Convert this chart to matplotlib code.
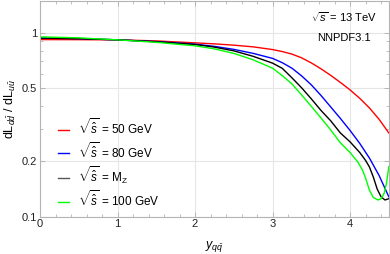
import numpy as np
import matplotlib
matplotlib.use("Agg")
import matplotlib.pyplot as plt
from matplotlib.ticker import FixedLocator, NullFormatter

plt.rcParams['font.family'] = ['Liberation Sans', 'DejaVu Sans']
plt.rcParams['mathtext.fontset'] = 'custom'
plt.rcParams['mathtext.rm'] = 'Liberation Sans'
plt.rcParams['mathtext.it'] = 'Liberation Sans:italic'

# ratio dL_dd / dL_uu vs rapidity
x_50 = [0, 0.5, 1, 1.5, 2, 2.25, 2.5, 2.75, 3, 3.125, 3.25, 3.375, 3.5, 3.625,
        3.75, 3.875, 4, 4.125, 4.25, 4.375, 4.5]
r_50 = [0.919, 0.918, 0.916, 0.904, 0.882, 0.871, 0.857, 0.839, 0.811, 0.791,
        0.766, 0.731, 0.686, 0.637, 0.587, 0.537, 0.489, 0.440, 0.390, 0.338, 0.285]

x_80 = [0, 0.5, 1, 1.5, 2, 2.25, 2.5, 2.75, 3, 3.125, 3.25, 3.375, 3.5, 3.625,
        3.75, 3.875, 4, 4.125, 4.25, 4.375, 4.5]
r_80 = [0.936, 0.930, 0.916, 0.896, 0.868, 0.844, 0.813, 0.773, 0.726, 0.688,
        0.642, 0.583, 0.521, 0.456, 0.395, 0.342, 0.294, 0.250, 0.208, 0.167, 0.128]

x_mz = [0, 0.5, 1, 1.5, 2, 2.25, 2.5, 2.75, 3, 3.125, 3.25, 3.375, 3.5, 3.625,
        3.75, 3.875, 4, 4.125, 4.2, 4.25, 4.3, 4.35, 4.4, 4.45, 4.5]
r_mz = [0.936, 0.930, 0.916, 0.894, 0.864, 0.836, 0.798, 0.745, 0.684, 0.641,
        0.569, 0.502, 0.437, 0.378, 0.332, 0.285, 0.255, 0.223, 0.202, 0.186,
        0.164, 0.141, 0.128, 0.123, 0.125]

x_100 = [0, 0.5, 1, 1.5, 2, 2.25, 2.5, 2.75, 3, 3.125, 3.25, 3.375, 3.5, 3.625,
         3.75, 3.875, 4, 4.1, 4.16, 4.2, 4.25, 4.3, 4.36, 4.4, 4.44, 4.47, 4.5]
r_100 = [0.951, 0.939, 0.916, 0.888, 0.850, 0.818, 0.773, 0.713, 0.642, 0.585,
         0.527, 0.459, 0.398, 0.344, 0.296, 0.252, 0.223, 0.198, 0.179, 0.162,
         0.139, 0.127, 0.123, 0.125, 0.134, 0.152, 0.187]

labels = [r'$\sqrt{\hat{s}}$ = 50 GeV', r'$\sqrt{\hat{s}}$ = 80 GeV',
          r'$\sqrt{\hat{s}}$ = M$_\mathrm{Z}$', r'$\sqrt{\hat{s}}$ = 100 GeV']
colors = ['#ff0000', '#0000ff', '#000000', '#00ff00']

fig = plt.figure(figsize=(3.9, 2.54), dpi=100)
ax = fig.add_axes([0.1026, 0.1476, 0.8944, 0.8504])

series = [(x_50, r_50), (x_80, r_80), (x_mz, r_mz), (x_100, r_100)]
for (xs, ys), lab, c in zip(series, labels, colors):
    ax.plot(xs, ys, color=c, lw=1.0, label=lab)

ax.set_yscale('log')
ax.set_xlim(0, 4.5)
ax.set_ylim(0.1, 1.5)

ax.yaxis.set_major_locator(FixedLocator([0.1, 0.2, 0.5, 1]))
ax.set_yticklabels(['0.1', '0.2', '0.5', '1'])
ax.yaxis.set_minor_locator(FixedLocator([0.3, 0.4, 0.6, 0.7, 0.8, 0.9]))
ax.yaxis.set_minor_formatter(NullFormatter())
ax.set_xticks([0, 1, 2, 3, 4])
ax.set_xticks(np.arange(0, 4.5, 0.2), minor=True)

ax.grid(True, which='major', color='#e6e6e6', lw=0.8)
ax.set_axisbelow(True)
for s in ax.spines.values():
    s.set_color('#b4b4b4')
    s.set_linewidth(0.8)
ax.tick_params(which='both', direction='in', color='#b4b4b4', labelsize=8,
               labelcolor='#222222', top=True, right=True)
ax.tick_params(which='major', length=3.5, width=0.7)
ax.tick_params(which='minor', length=2, width=0.6)
ax.tick_params(axis='x', pad=2)
ax.tick_params(axis='y', pad=2)

ax.set_xlabel(r'$y_{q\bar{q}}$', fontsize=9, labelpad=7)
ax.set_ylabel(r'dL$_{d\bar{d}}$ / dL$_{u\bar{u}}$', fontsize=9, labelpad=3)

ax.text(0.871, 0.924, r'$\sqrt{s}$ = 13 TeV', transform=ax.transAxes,
        ha='center', va='center', fontsize=8)
ax.text(0.871, 0.826, 'NNPDF3.1', transform=ax.transAxes,
        ha='center', va='center', fontsize=8)

leg = ax.legend(loc='lower left', bbox_to_anchor=(0.02, -0.015), frameon=False,
                fontsize=8.5, handlelength=0.95, handletextpad=0.8,
                labelspacing=0.3)
# legend swatch for M_Z is drawn grey in the original
leg.legend_handles[2].set_color('#555555')

fig.savefig('out.png', dpi=100)
